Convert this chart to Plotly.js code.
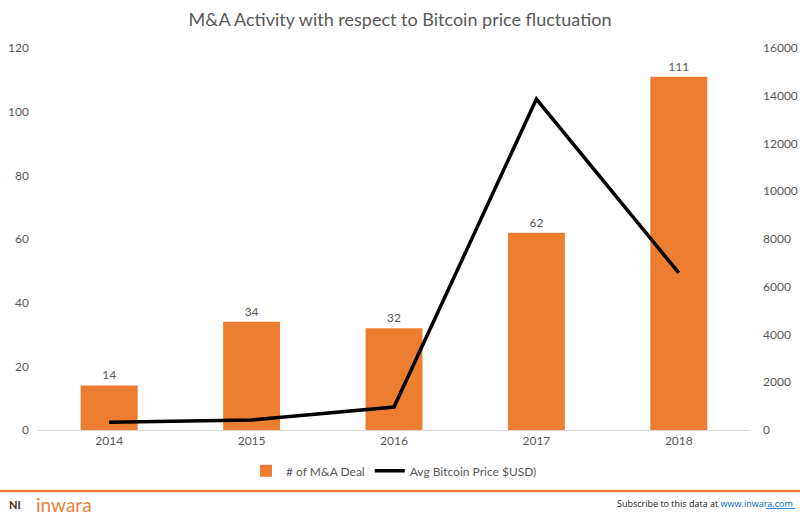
<!DOCTYPE html>
<html>
<head>
<meta charset="utf-8">
<script src="https://cdn.plot.ly/plotly-3.0.1.min.js"></script>
<style>html,body{margin:0;padding:0;background:#fff;}#chart{width:800px;height:523px;}</style>
</head>
<body>
<div id="chart"></div>
<script>
const years = ['2014', '2015', '2016', '2017', '2018'];
const dealCounts = [14, 34, 32, 62, 111];
const avgBitcoinPrice = [320, 420, 960, 13860, 6580];
const leftTicks = [0, 20, 40, 60, 80, 100, 120];
const rightTicks = [0, 2000, 4000, 6000, 8000, 10000, 12000, 14000, 16000];

const font = 'Lato, "Open Sans", sans-serif';
const grey = '#595959';

const traces = [
  {
    type: 'bar', name: '# of M&A Deal', x: years, y: dealCounts,
    marker: {color: '#ED7D31'},
    text: dealCounts.map(String), textposition: 'outside', cliponaxis: false,
    textfont: {family: font, size: 12, color: grey},
    hoverinfo: 'none'
  },
  {
    type: 'scatter', mode: 'lines', name: 'Avg Bitcoin Price $USD)', x: years, y: avgBitcoinPrice,
    yaxis: 'y2', line: {color: '#000000', width: 3.5},
    hoverinfo: 'none'
  }
];

const layout = {
  width: 800, height: 523,
  margin: {l: 38, r: 50, t: 48, b: 93},
  paper_bgcolor: '#ffffff', plot_bgcolor: '#ffffff',
  font: {family: font, color: grey, size: 12},
  title: {text: 'M&A Activity with respect to Bitcoin price fluctuation', x: 0.5, xanchor: 'center', y: 0.962, yanchor: 'middle', font: {family: font, size: 18, color: '#595959'}},
  bargap: 0.6,
  showlegend: true,
  legend: {orientation: 'h', x: 0.5, xanchor: 'center', y: -0.107, yanchor: 'middle', font: {family: font, size: 12, color: grey}, traceorder: 'normal'},
  xaxis: {
    type: 'category', showgrid: false, showline: true, linecolor: '#d9d9d9', linewidth: 1,
    ticks: '', tickfont: {family: font, size: 12, color: grey}, zeroline: false, fixedrange: true
  },
  yaxis: {
    range: [0, 120], tickvals: leftTicks, showgrid: false, zeroline: false, showline: false,
    ticks: '', tickfont: {family: font, size: 12, color: grey}, ticklabelstandoff: 8
  },
  yaxis2: {
    range: [0, 16000], tickvals: rightTicks, tickformat: 'd', overlaying: 'y', side: 'right', showgrid: false, zeroline: false,
    showline: false, ticks: '', tickfont: {family: font, size: 12, color: grey}, ticklabelstandoff: 12
  },
  shapes: [
    {type: 'line', xref: 'paper', yref: 'paper', x0: -0.06, x1: 1.08, y0: -0.160, y1: -0.160, line: {color: '#E8823E', width: 2.5}},
    {type: 'line', xref: 'paper', yref: 'paper', x0: 1.0224, x1: 1.0635, y0: -0.2055, y1: -0.2055, line: {color: '#0563C1', width: 0.8}}
  ],
  annotations: [
    {xref: 'paper', yref: 'paper', x: -0.043, y: -0.195, xanchor: 'left', yanchor: 'middle', showarrow: false,
     text: '<b>NI</b>', font: {family: font, size: 11, color: '#3a2a1a'}},
    {xref: 'paper', yref: 'paper', x: -0.005, y: -0.195, xanchor: 'left', yanchor: 'middle', showarrow: false,
     text: 'inwara', font: {family: font, size: 19, color: '#E8823E'}},
    {xref: 'paper', yref: 'paper', x: 1.0635, y: -0.193, xanchor: 'right', yanchor: 'middle', showarrow: false,
     text: 'Subscribe to this data at <span style="color:#0563C1">www.inwara.com</span>', font: {family: '"Open Sans", sans-serif', size: 9, color: '#222222'}}
  ]
};

Plotly.newPlot('chart', traces, layout, {displayModeBar: false, staticPlot: true});
</script>
</body>
</html>
